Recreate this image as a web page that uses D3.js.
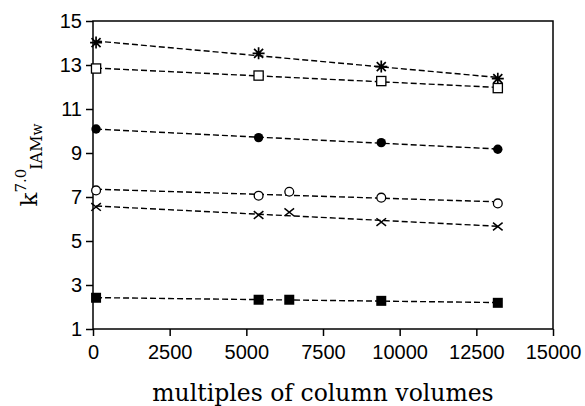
<!DOCTYPE html>
<html><head><meta charset="utf-8">
<script src="https://cdn.jsdelivr.net/npm/d3@7"></script>
<style>
html,body{margin:0;padding:0;background:#fff;}
svg{display:block;}
.tick text{font-family:"Liberation Sans",Arial,sans-serif;font-size:20px;fill:#000;}
</style></head>
<body>
<svg id="chart" width="585" height="406"></svg>
<script>
// ---- data ----
const xTicks = [0, 2500, 5000, 7500, 10000, 12500, 15000];
const yTicks = [1, 3, 5, 7, 9, 11, 13, 15];
const asteriskX = [100, 5400, 9400, 13200];
const asteriskY = [14.02, 13.53, 12.93, 12.38];
const openSquareX = [100, 5400, 9400, 13200];
const openSquareY = [12.84, 12.52, 12.27, 11.95];
const filledCircleX = [100, 5400, 9400, 13200];
const filledCircleY = [10.09, 9.70, 9.47, 9.17];
const openCircleX = [100, 5400, 6400, 9400, 13200];
const openCircleY = [7.30, 7.06, 7.24, 6.97, 6.71];
const crossX = [100, 5400, 6400, 9400, 13200];
const crossY = [6.55, 6.18, 6.31, 5.86, 5.66];
const filledSquareX = [100, 5400, 6400, 9400, 13200];
const filledSquareY = [2.42, 2.33, 2.33, 2.28, 2.19];

const series = [
  {xs: asteriskX, ys: asteriskY, marker: "asterisk"},
  {xs: openSquareX, ys: openSquareY, marker: "openSquare"},
  {xs: filledCircleX, ys: filledCircleY, marker: "filledCircle"},
  {xs: openCircleX, ys: openCircleY, marker: "openCircle"},
  {xs: crossX, ys: crossY, marker: "cross"},
  {xs: filledSquareX, ys: filledSquareY, marker: "filledSquare"}
];

// ---- layout ----
const L = 93, R = 553, T = 21, B = 329;
const svg = d3.select("#chart");
const x = d3.scaleLinear().domain([0, 15000]).range([L, R]);
const y = d3.scaleLinear().domain([1, 15]).range([B, T]);

// axes
const gx = svg.append("g").attr("transform", `translate(0,${B})`)
  .call(d3.axisBottom(x).tickValues(xTicks).tickFormat(d3.format("d")).tickSize(7).tickPadding(9).tickSizeOuter(0));
const gy = svg.append("g").attr("transform", `translate(${L},0)`)
  .call(d3.axisLeft(y).tickValues(yTicks).tickFormat(d3.format("d")).tickSize(7).tickPadding(4).tickSizeOuter(0));
[gx, gy].forEach(g => {
  g.selectAll(".domain").remove();
  g.selectAll(".tick line").attr("stroke", "#000").attr("stroke-width", 1.5);
});
// frame
svg.append("rect").attr("x", L).attr("y", T).attr("width", R - L).attr("height", B - T)
  .attr("fill", "none").attr("stroke", "#000").attr("stroke-width", 1.5);

// regression lines (least squares fit of each series)
function fit(xs, ys) {
  const mx = d3.mean(xs), my = d3.mean(ys);
  let sxy = 0, sxx = 0;
  xs.forEach((v, i) => { sxy += (v - mx) * (ys[i] - my); sxx += (v - mx) * (v - mx); });
  const b = sxy / sxx, a = my - b * mx;
  return v => a + b * v;
}
const line = d3.line().x(d => x(d[0])).y(d => y(d[1]));
series.forEach(s => {
  const f = fit(s.xs, s.ys);
  const x0 = d3.min(s.xs), x1 = d3.max(s.xs);
  svg.append("path").attr("d", line([[x0, f(x0)], [x1, f(x1)]]))
    .attr("fill", "none").attr("stroke", "#000").attr("stroke-width", 1.4)
    .attr("stroke-dasharray", "6,3");
});

// markers
function drawMarker(g, kind, cx, cy) {
  if (kind === "asterisk") {
    const r = 6, d = r * 0.75;
    g.append("path").attr("d",
      `M${cx},${cy - r}L${cx},${cy + r}M${cx - r},${cy}L${cx + r},${cy}` +
      `M${cx - d},${cy - d}L${cx + d},${cy + d}M${cx - d},${cy + d}L${cx + d},${cy - d}`)
      .attr("stroke", "#000").attr("stroke-width", 1.7).attr("fill", "none");
  } else if (kind === "openSquare") {
    g.append("rect").attr("x", cx - 4.6).attr("y", cy - 4.6).attr("width", 9.2).attr("height", 9.2)
      .attr("fill", "#fff").attr("stroke", "#000").attr("stroke-width", 1.3);
  } else if (kind === "filledSquare") {
    g.append("rect").attr("x", cx - 5).attr("y", cy - 5).attr("width", 10).attr("height", 10)
      .attr("fill", "#000");
  } else if (kind === "filledCircle") {
    g.append("circle").attr("cx", cx).attr("cy", cy).attr("r", 4.7).attr("fill", "#000");
  } else if (kind === "openCircle") {
    g.append("circle").attr("cx", cx).attr("cy", cy).attr("r", 4.4)
      .attr("fill", "#fff").attr("stroke", "#000").attr("stroke-width", 1.3);
  } else if (kind === "cross") {
    const r = 4.8;
    g.append("path").attr("d",
      `M${cx - r},${cy - r * 0.8}L${cx + r},${cy + r * 0.8}M${cx - r},${cy + r * 0.8}L${cx + r},${cy - r * 0.8}`)
      .attr("stroke", "#000").attr("stroke-width", 1.5).attr("fill", "none");
  }
}
series.forEach(s => {
  const g = svg.append("g");
  s.xs.forEach((v, i) => drawMarker(g, s.marker, x(v), y(s.ys[i])));
});

// axis titles
svg.append("text").attr("x", (L + R) / 2).attr("y", 401).attr("text-anchor", "middle")
  .attr("font-family", "DejaVu Serif, serif").attr("font-size", 23.5).attr("fill", "#000")
  .text("multiples of column volumes");

const yl = svg.append("text").attr("transform", "translate(37,165) rotate(-90)")
  .attr("text-anchor", "middle").attr("font-family", "DejaVu Serif, serif").attr("fill", "#000");
yl.append("tspan").attr("font-size", 23).text("k");
yl.append("tspan").attr("font-size", 15).attr("dy", -11).text("7.0");
yl.append("tspan").attr("font-size", 16).attr("dy", 16).attr("dx", -1).text("IAM");
yl.append("tspan").attr("font-size", 14).attr("dy", 0).text("w");
</script>
</body></html>
